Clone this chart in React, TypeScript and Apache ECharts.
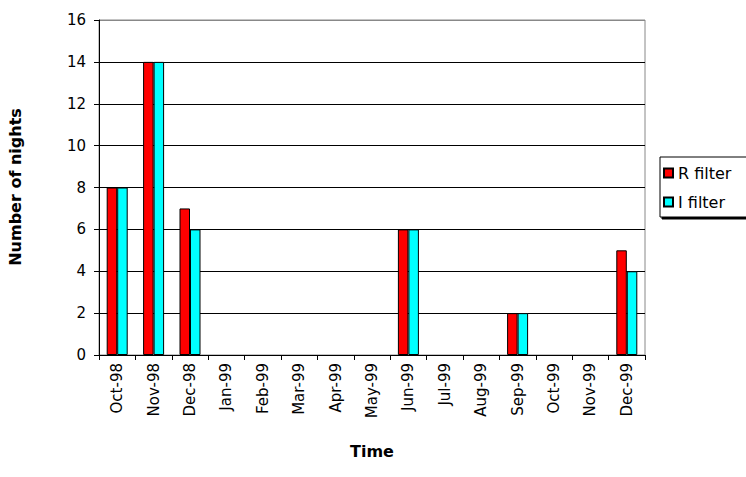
import React, { useEffect, useRef } from "react";
import * as echarts from "echarts";

const categories = ["Oct-98", "Nov-98", "Dec-98", "Jan-99", "Feb-99", "Mar-99", "Apr-99", "May-99", "Jun-99", "Jul-99", "Aug-99", "Sep-99", "Oct-99", "Nov-99", "Dec-99"];
const rFilter = [8, 14, 7, 0, 0, 0, 0, 0, 6, 0, 0, 2, 0, 0, 5];
const iFilter = [8, 14, 6, 0, 0, 0, 0, 0, 6, 0, 0, 2, 0, 0, 4];
const seriesNames = ["R filter", "I filter"];
const yTitle = "Number of nights";
const xTitle = "Time";

const FONT = "'DejaVu Sans', Arial, sans-serif";

const toBars = (vals: number[]) => vals.map((v) => (v === 0 ? null : v));

export default function App() {
  const ref = useRef<HTMLDivElement>(null);
  useEffect(() => {
    if (!ref.current) return;
    const chart = echarts.init(ref.current, undefined, { renderer: "svg" });
    chart.setOption({
      animation: false,
      backgroundColor: "#fff",
      textStyle: { fontFamily: FONT },
      grid: { left: 99, right: 101, top: 20, bottom: 122, show: true, borderColor: "#888", borderWidth: 1 },
      legend: {
        orient: "vertical",
        left: 660,
        top: 157,
        padding: [8, 17, 7, 3],
        itemGap: 13,
        itemWidth: 9,
        itemHeight: 9,
        icon: "rect",
        borderColor: "#000",
        borderWidth: 1,
        shadowColor: "#000",
        shadowOffsetX: 2,
        shadowOffsetY: 2,
        shadowBlur: 0,
        backgroundColor: "#fff",
        textStyle: { fontFamily: FONT, fontSize: 16, lineHeight: 16, color: "#000" },
        data: seriesNames,
      },
      xAxis: {
        type: "category",
        data: categories,
        boundaryGap: true,
        axisLine: { lineStyle: { color: "#000", width: 1 } },
        axisTick: { show: true, length: 5, lineStyle: { color: "#000" } },
        axisLabel: { rotate: 90, fontSize: 15, color: "#000", fontFamily: FONT, margin: 8 },
        splitLine: { show: false },
      },
      yAxis: {
        type: "value",
        min: 0,
        max: 16,
        interval: 2,
        axisLine: { show: true, lineStyle: { color: "#000", width: 1 } },
        axisTick: { show: true, length: 5, lineStyle: { color: "#000" } },
        axisLabel: { fontSize: 15, color: "#000", fontFamily: FONT, margin: 13 },
        splitLine: { show: true, lineStyle: { color: ["#000", "#000", "#000", "#000", "#000", "#000", "#000", "#000", "#888"], width: 1 } },
      },
      series: [
        {
          name: seriesNames[0],
          type: "bar",
          data: toBars(rFilter),
          barWidth: 10.5,
          barGap: "0%",
          itemStyle: { color: "#ff0000", borderColor: "#000", borderWidth: 1 },
        },
        {
          name: seriesNames[1],
          type: "bar",
          data: toBars(iFilter),
          barWidth: 10.5,
          itemStyle: { color: "#00ffff", borderColor: "#000", borderWidth: 1 },
        },
      ],
      graphic: [
        {
          type: "text",
          x: 15,
          y: 187,
          rotation: Math.PI / 2,
          style: { text: yTitle, font: `bold 16px ${FONT}`, fill: "#000", textAlign: "center", textVerticalAlign: "middle" },
        },
        {
          type: "text",
          x: 372,
          y: 451,
          style: { text: xTitle, font: `bold 16px ${FONT}`, fill: "#000", textAlign: "center", textVerticalAlign: "middle" },
        },
      ],
    });
    return () => chart.dispose();
  }, []);
  return <div ref={ref} style={{ width: 746, height: 477, position: "absolute", left: 0, top: 0 }} />;
}
